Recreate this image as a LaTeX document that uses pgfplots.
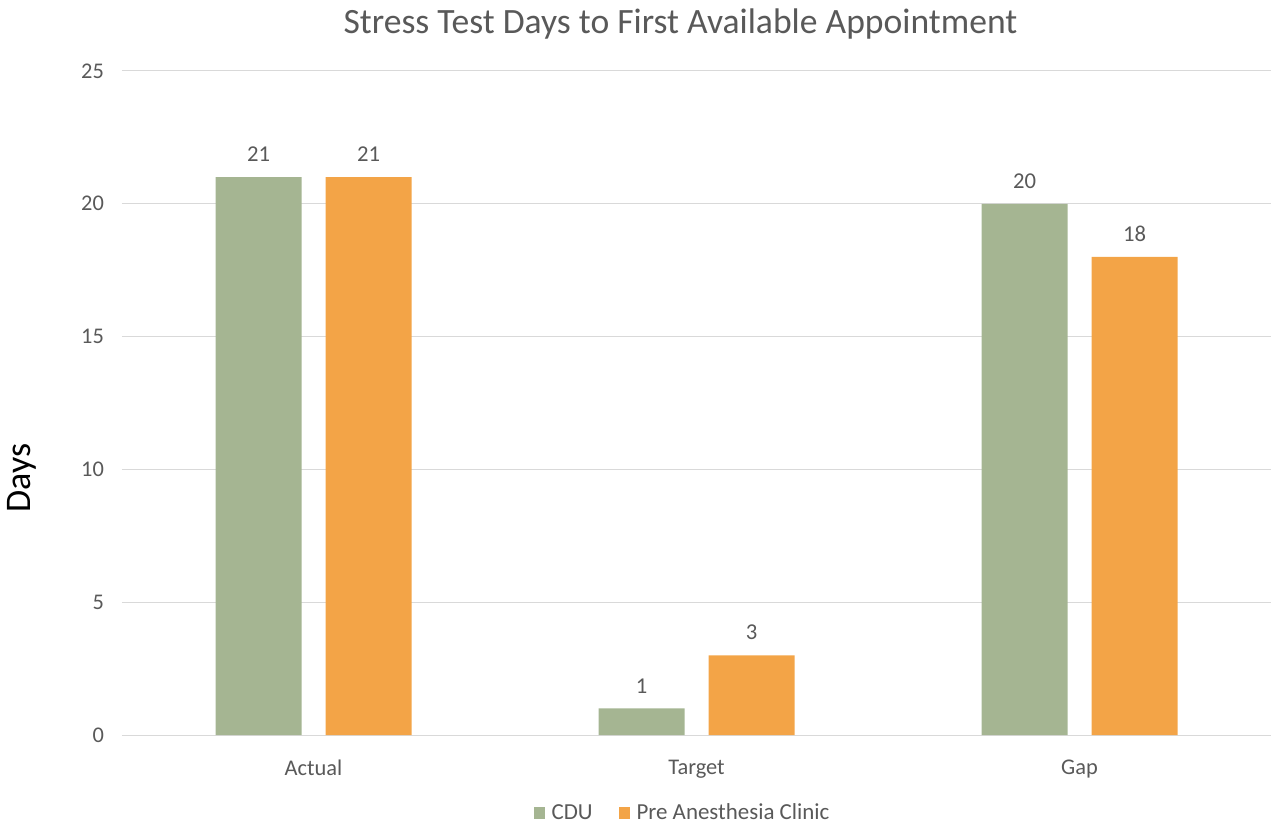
\documentclass[border=0pt]{standalone}
\usepackage{pgfplots}
\pgfplotsset{compat=1.18}
\usepackage{fontspec}
\setmainfont{Carlito}
\definecolor{cdu}{HTML}{A5B592}
\definecolor{pac}{HTML}{F3A447}
\definecolor{txt}{HTML}{595959}
\definecolor{gridc}{HTML}{D9D9D9}
\begin{document}
\begin{tikzpicture}
\path[use as bounding box] (-91.5pt,-72pt) rectangle (863.25pt,551.25pt);
\begin{axis}[
  at={(0,0)}, anchor=south west,
  scale only axis, width=861.75pt, height=498pt,
  ybar, bar width=64.5pt,
  xmin=-0.5, xmax=2.5, ymin=0, ymax=25,
  xtick={0,1,2}, xticklabels={Actual,Target,Gap},
  ytick={0,5,...,25},
  axis line style={draw=none},
  tick style={draw=none},
  xmajorgrids=false, ymajorgrids=true,
  grid style={draw=gridc, line width=0.75pt},
  ticklabel style={font=\fontsize{16.8}{18}\selectfont, text=txt},
  /pgf/number format/assume math mode=true,
  yticklabel style={xshift=-10pt},
  xticklabel style={yshift=-11pt},
  title={Stress Test Days to First Available Appointment},
  title style={font=\fontsize{26.7}{30}\selectfont, text=txt, yshift=14pt, xshift=-12pt},
  ylabel={Days},
  ylabel style={font=\fontsize{27}{30}\selectfont, text=black,
    at={(rel axis cs:-0.087,0.387)}, anchor=center},
  nodes near coords,
  nodes near coords style={font=\fontsize{17}{18}\selectfont, text=txt, yshift=8pt},
  legend style={at={(0.5,-0.1175)}, anchor=center, xshift=-10pt, draw=none, legend columns=2,
    font=\fontsize{17.2}{18}\selectfont, text=txt,
    /tikz/every even column/.append style={column sep=18pt}},
  legend image code/.code={\fill[#1] (0pt,-4.2pt) rectangle (8.4pt,4.2pt); \path (11pt,0pt);},
]
\addplot[fill=cdu, draw=none, bar shift=-41.25pt] coordinates {(0,21) (1,1) (2,20)};
\addplot[fill=pac, draw=none, bar shift=41.25pt] coordinates {(0,21) (1,3) (2,18)};
\legend{CDU, Pre Anesthesia Clinic}
\end{axis}
\end{tikzpicture}
\end{document}
